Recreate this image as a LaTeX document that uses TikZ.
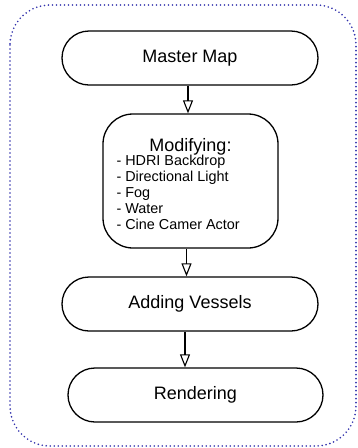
\documentclass[tikz,border=0pt]{standalone}
\usepackage{fontspec}
\setmainfont{Liberation Sans}
\usetikzlibrary{arrows.meta, positioning, calc, shapes.misc}

\begin{document}
\begin{tikzpicture}[
    x=1pt, y=-1pt,
    >={Triangle[open, length=13pt, width=10pt, line width=1.1pt]},
    stepbox/.style={draw, line width=1.3pt, fill=white, rounded rectangle,
        rounded rectangle arc length=180,
        minimum width=256pt, minimum height=54pt, inner sep=0pt,
        font=\fontsize{18}{20}\selectfont},
    flow/.style={->, line width=1.3pt},
]
\useasboundingbox (0, 0) rectangle (358, 448);

% Outer dotted frame
\draw[blue!60!black!80, line width=1.8pt, line cap=round,
    dash pattern=on 0pt off 4pt, rounded corners=40pt]
    (10, 5) rectangle (356, 446);

% Boxes
\node[stepbox] (master) at (190, 58) {Master Map};
\node[draw, line width=1.3pt, fill=white, rounded corners=30pt,
    minimum width=175pt, minimum height=134pt, inner sep=0pt,
    font=\fontsize{18}{20}\selectfont, align=center] (modify) at (190.5, 181)
    {\rule{0pt}{19pt}Modifying:\\[-1pt]
     \parbox{148pt}{\fontsize{14.4}{16}\selectfont\raggedright
        - HDRI Backdrop\\
        - Directional Light\\
        - Fog\\
        - Water\\
        - Cine Camer Actor}};
\node[stepbox] (vessels) at (190, 304) {Adding Vessels};
\node[stepbox, minimum width=255pt] (render) at (195.5, 395) {Rendering};

% Arrows
\coordinate (a1) at ($(master.south)+(-2,0)$);
\coordinate (a2) at ($(modify.south)+(-4,0)$);
\coordinate (a3) at ($(vessels.south)+(-5,0)$);
\draw[flow] (a1) -- (a1 |- modify.north);
\draw[flow] (a2) -- (a2 |- vessels.north);
\draw[flow] (a3) -- (a3 |- render.north);

\end{tikzpicture}
\end{document}
